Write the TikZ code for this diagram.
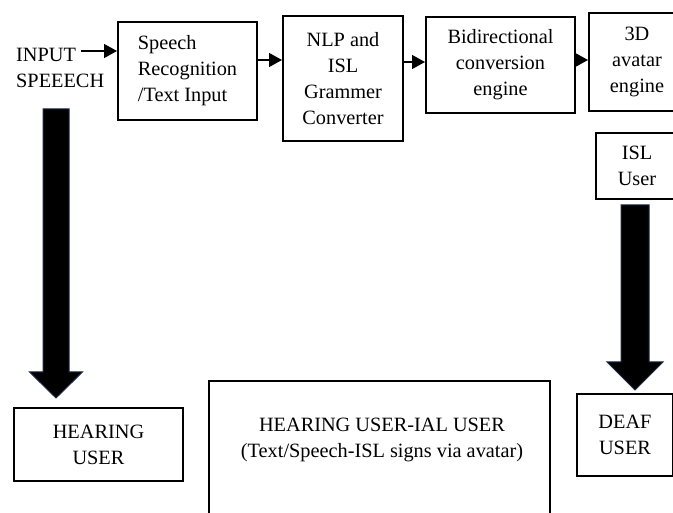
\documentclass[tikz,border=0pt]{standalone}
\usepackage{fontspec}
\setmainfont{Liberation Serif}
\usetikzlibrary{arrows.meta,calc}
\definecolor{arrowedge}{RGB}{30,42,72}
\begin{document}
\begin{tikzpicture}[x=1pt,y=-1pt,
  txt/.style={font=\fontsize{20.3}{26}\selectfont, inner sep=0pt},
  box/.style={txt, draw=black, line width=2pt, rectangle, align=center},
  flow/.style={-{Triangle[length=13pt,width=14pt]}, line width=1.3pt},
  bigarrow/.style={fill=black, draw=arrowedge, line width=1pt, line join=miter}]
\useasboundingbox (0,0) rectangle (673,513);
\clip (0,0) rectangle (673,513);
\fill[white] (0,0) rectangle (673,513);

% top row
\node[txt, align=left, anchor=west] (inp) at (16,68) {INPUT\\SPEEECH};
\coordinate (inpend) at (81,51);
\node[box, align=left, minimum width=139pt, minimum height=98pt] (b1) at (187.5,71) {Speech\\Recognition\\/Text Input};
\node[box, minimum width=120pt, minimum height=125pt] (b2) at (343,78.5) {NLP and\\ISL\\Grammer\\Converter};
\node[box, minimum width=149pt, minimum height=96pt] (b3) at (500.5,65) {Bidirectional\\conversion\\engine};
\node[box, minimum width=96pt, minimum height=98pt] (b4) at (637,62) {3D\\avatar\\engine};
\node[box, minimum width=82pt, minimum height=66pt] (isl) at (637,166) {ISL\\User};

% bottom row
\node[box, minimum width=169pt, minimum height=73pt] (hear) at (98.5,444.5) {HEARING\\USER};
\node[box, minimum width=96pt, minimum height=82pt] (deaf) at (625,435) {DEAF\\USER};
\node[box, minimum width=341pt, minimum height=159pt] (midbox) at (379.5,460.5) {};
\node[txt, align=center] (mid) at (382,440) {HEARING USER-IAL USER\\(Text/Speech-ISL signs via avatar)};

% small connectors
\draw[flow] (inpend) -- (inpend -| b1.west);
\draw[flow] ([yshift=11pt]b1.east) -- ([yshift=11pt]b1.east -| b2.west);
\draw[flow] ([yshift=3pt]b3.west -| b2.east) -- ([yshift=3pt]b3.west);
\draw[flow] ([yshift=2pt]b4.west -| b3.east) -- ([yshift=2pt]b4.west);

% big arrows
\coordinate (ls) at (56,109);
\coordinate (lt) at (56,398);
\draw[bigarrow] ($(ls)+(-13,0)$) -- ($(ls)+(13,0)$) -- ($(lt)+(13,-26)$) -- ($(lt)+(26.5,-26)$) -- (lt) -- ($(lt)+(-26.5,-26)$) -- ($(lt)+(-13,-26)$) -- cycle;
\coordinate (rs) at (635,205);
\coordinate (rt) at (635,390);
\draw[bigarrow] ($(rs)+(-14,0)$) -- ($(rs)+(14,0)$) -- ($(rt)+(14,-28)$) -- ($(rt)+(28,-28)$) -- (rt) -- ($(rt)+(-28,-28)$) -- ($(rt)+(-14,-28)$) -- cycle;
\end{tikzpicture}
\end{document}
